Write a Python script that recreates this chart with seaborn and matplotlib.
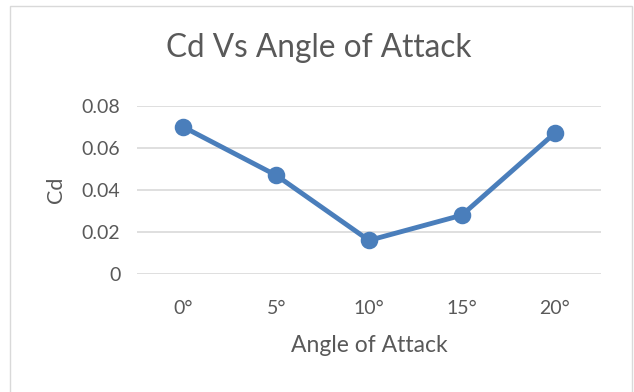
import matplotlib
matplotlib.use("Agg")
import matplotlib.pyplot as plt
import matplotlib.patches as mpatches
import seaborn as sns
import pandas as pd

# Drag coefficient against angle of attack
angles = ["0°", "5°", "10°", "15°", "20°"]
cd = [0.070, 0.047, 0.016, 0.028, 0.067]
y_ticks = [0, 0.02, 0.04, 0.06, 0.08]
y_tick_labels = ["0", "0.02", "0.04", "0.06", "0.08"]

W, H = 634, 392
DPI = 100
TEXT = "#595959"
GRID = "#d9d9d9"
LINE = "#4A7EBB"

sns.set_theme(style="white")
plt.rcParams["font.family"] = ["Lato", "DejaVu Sans"]

df = pd.DataFrame({"Angle of Attack": angles, "Cd": cd})

fig = plt.figure(figsize=(W / DPI, H / DPI), dpi=DPI)
ax = fig.add_axes([137 / W, 1 - 274 / H, (601 - 137) / W, (274 - 106) / H])

sns.pointplot(data=df, x="Angle of Attack", y="Cd", color=LINE,
              markers="o", markersize=10, linewidth=3.5, ax=ax)
for art in ax.lines + ax.collections:
    art.set_clip_on(False)

ax.set_xlim(-0.5, len(angles) - 0.5)
ax.set_ylim(0, 0.08)
ax.set_yticks(y_ticks)
ax.set_yticklabels(y_tick_labels)
ax.yaxis.grid(True, color=GRID, linewidth=1.2)
ax.xaxis.grid(False)
ax.set_axisbelow(True)
for s in ax.spines.values():
    s.set_visible(False)

ax.tick_params(axis="x", length=0, pad=19, labelsize=14, labelcolor=TEXT)
ax.tick_params(axis="y", length=0, pad=12, labelsize=14, labelcolor=TEXT)
ax.set_xlabel("Angle of Attack", fontsize=16.5, color=TEXT, labelpad=13)
ax.set_ylabel("Cd", fontsize=15.5, color=TEXT, labelpad=11.5)

fig.text(318.5 / W, 1 - 57 / H, "Cd Vs Angle of Attack", ha="center",
         va="baseline", fontsize=22.7, color=TEXT)

# Light chart-area frame
frame = mpatches.Rectangle((10 / W, -0.02), (632 - 10) / W, 1 - 6 / H + 0.02,
                           transform=fig.transFigure, fill=False,
                           edgecolor=GRID, linewidth=1.0)
fig.patches.append(frame)

fig.savefig("out.png", dpi=DPI, facecolor="white")
